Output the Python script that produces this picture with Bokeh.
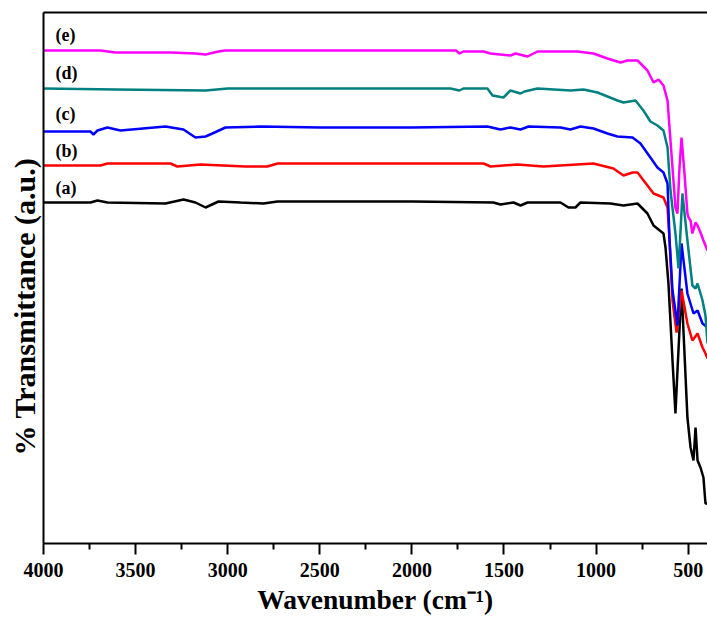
from bokeh.plotting import figure
from bokeh.models import Range1d, FixedTicker, LinearAxis, Label, Title
from bokeh.embed import file_html
from bokeh.resources import INLINE

# ---- data (wavenumber in cm^-1, transmittance in arbitrary units) ----
wn_a = [4000, 3745, 3707, 3653, 3338, 3240, 3175, 3120, 3050, 2930, 2806, 2730, 2000,
        1557, 1519, 1448, 1410, 1372, 1193, 1150, 1112, 1085, 922, 851, 775, 721, 688,
        661, 634, 623, 607, 585, 569, 558, 536, 504, 487, 471, 460, 449, 433, 417, 406, 395]
t_a = [341, 341, 343, 341, 340, 344, 341, 336, 342, 341, 340, 342, 342,
       341, 339, 341, 338, 341, 341, 336, 336, 341, 340, 338, 340, 330, 318,
       314, 310, 296, 260, 183, 130, 173, 255, 126, 96, 83, 116, 83, 76, 66, 40, 40]

wn_b = [4000, 3691, 3653, 3311, 3273, 3148, 2903, 2784, 2730, 2000, 1611, 1573, 1427,
        1285, 1014, 906, 851, 802, 775, 721, 688, 634, 612, 601, 585, 563, 536, 504,
        477, 449, 422, 406, 395]
t_b = [378, 378, 380, 380, 377, 379, 377, 377, 380, 380, 380, 377, 379,
       377, 380, 375, 368, 371, 371, 358, 350, 346, 336, 303, 243, 211, 253, 220,
       203, 210, 196, 190, 185]

wn_c = [4000, 3745, 3729, 3707, 3653, 3582, 3338, 3240, 3175, 3120, 3083, 3012, 2822,
        2500, 2000, 1590, 1519, 1465, 1410, 1367, 1193, 1139, 1085, 1014, 938, 884,
        802, 759, 705, 667, 634, 612, 601, 585, 558, 536, 504, 471, 449, 422, 395]
t_c = [412, 412, 409, 413, 416, 413, 417, 414, 406, 407, 410, 416, 417,
       416, 416, 417, 414, 416, 414, 417, 416, 414, 417, 415, 410, 407,
       406, 400, 386, 376, 371, 360, 303, 253, 218, 300, 250, 230, 233, 220, 216]

wn_d = [4000, 3609, 3120, 3000, 1790, 1742, 1720, 1590, 1562, 1503, 1465, 1410, 1389,
        1318, 1139, 1068, 992, 884, 851, 786, 743, 705, 667, 634, 612, 596, 569, 552,
        531, 504, 477, 460, 449, 422, 406, 395]
t_d = [455, 454, 453, 455, 455, 453, 455, 455, 448, 446, 453, 450, 452,
       455, 453, 454, 451, 443, 441, 443, 433, 422, 418, 413, 396, 353, 310, 275,
       350, 303, 258, 255, 260, 243, 228, 200]

wn_e = [4000, 3691, 3609, 3311, 3175, 3120, 3050, 3012, 2500, 1790, 1760, 1742, 1720,
        1611, 1573, 1465, 1437, 1372, 1318, 1101, 1014, 938, 868, 829, 775, 721, 688,
        661, 634, 612, 596, 569, 558, 548, 536, 520, 504, 498, 487, 477, 460, 449,
        433, 417, 406, 395]
t_e = [493, 493, 491, 491, 490, 489, 492, 493, 493, 493, 493, 490, 492,
       492, 490, 488, 490, 487, 492, 492, 490, 485, 481, 483, 483, 473, 461,
       464, 458, 443, 403, 336, 330, 373, 406, 370, 330, 326, 323, 310, 321, 318,
       311, 303, 298, 293]

series_labels = ["(a)", "(b)", "(c)", "(d)", "(e)"]
label_t = [356, 393, 430, 471, 509]
label_wn = 3935
colors = ["#000000", "#FF0000", "#0000FF", "#008080", "#FF00FF"]
x_ticks = [4000, 3500, 3000, 2500, 2000, 1500, 1000, 500]
x_minor = [3750, 3250, 2750, 2250, 1750, 1250, 750]

FONT = "Liberation Serif"

p = figure(width=707, height=622, output_backend="svg", toolbar_location=None,
           x_range=Range1d(4000, 395), y_range=Range1d(0, 531),
           min_border_left=43, min_border_right=0, min_border_top=12, min_border_bottom=79)
p.background_fill_color = "white"
p.border_fill_color = "white"
p.outline_line_color = None
p.xgrid.visible = False
p.ygrid.visible = False

for wn, t, c in zip([wn_a, wn_b, wn_c, wn_d, wn_e], [t_a, t_b, t_c, t_d, t_e], colors):
    p.line(wn, t, line_color=c, line_width=2.5)

for lab, ty in zip(series_labels, label_t):
    p.add_layout(Label(x=label_wn, y=ty, text=lab, text_font=FONT, text_font_style="bold",
                       text_font_size="18px", text_color="black", text_baseline="middle",
                       text_align="left"))

# x axis
xa = p.xaxis[0]
xa.ticker = FixedTicker(ticks=x_ticks, minor_ticks=x_minor)
xa.axis_label = "Wavenumber (cm\u207b\u00b9)"
xa.axis_label_text_font = FONT
xa.axis_label_text_font_style = "bold"
xa.axis_label_text_font_size = "27.5px"
xa.axis_label_text_color = "black"
xa.axis_label_standoff = 4
xa.major_label_text_font = FONT
xa.major_label_text_font_style = "bold"
xa.major_label_text_font_size = "20px"
xa.major_label_text_color = "black"
xa.major_label_standoff = 8
xa.axis_line_width = 2
xa.major_tick_line_width = 2
xa.minor_tick_line_width = 2
xa.major_tick_out = 11
xa.major_tick_in = 0
xa.minor_tick_out = 6
xa.minor_tick_in = 0
xa.axis_line_color = "black"

# y axis (no ticks); label drawn as a left title so it can be shifted
ya = p.yaxis[0]
ya.ticker = FixedTicker(ticks=[])
ya.major_label_text_font_size = "0px"
ya.axis_line_width = 2
ya.major_tick_line_color = None
ya.minor_tick_line_color = None
ya.axis_line_color = "black"

ytitle = Title(text="% Transmittance (a.u.)", align="left", offset=88,
               text_font=FONT, text_font_style="bold", text_font_size="30px",
               text_color="black", standoff=5)
p.add_layout(ytitle, "left")

# top border
top = LinearAxis(ticker=FixedTicker(ticks=[]), major_label_text_font_size="0px",
                 axis_line_width=2, major_tick_line_color=None, minor_tick_line_color=None)
p.add_layout(top, "above")

open("out.html", "w").write(file_html(p, INLINE))
